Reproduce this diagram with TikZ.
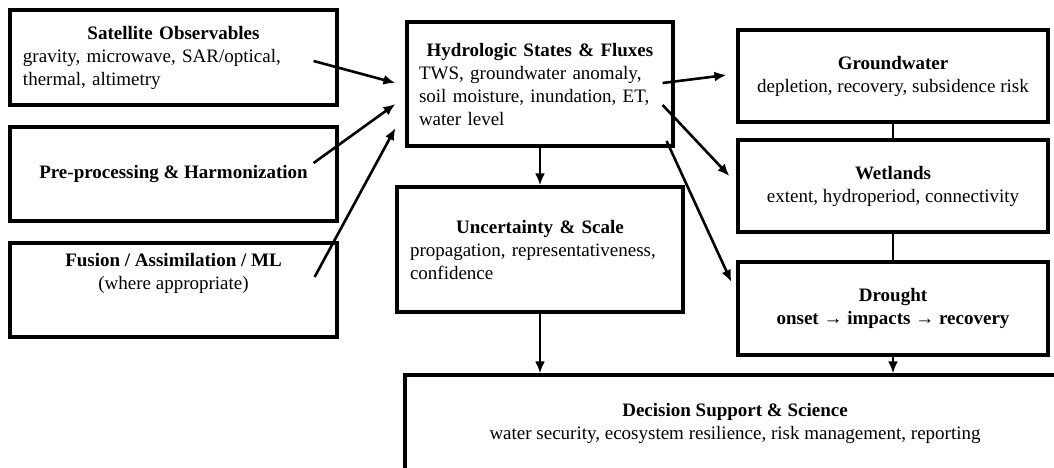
\documentclass[tikz,border=0pt]{standalone}
\usepackage{fontspec}
\setmainfont{Liberation Serif}
\usetikzlibrary{arrows.meta, calc}

\tikzset{
    stagebox/.style 2 args={draw, line width=3.2pt, inner sep=0pt,
        minimum width=#1, minimum height=#2, align=center},
    listbox/.style={align=left},
    link/.style={line width=2.6pt}
}

\begin{document}
\begin{tikzpicture}[x=1pt, y=1pt, font=\fontsize{19}{23}\selectfont,
        >={Latex[length=12pt, width=10pt]}]
            \useasboundingbox (0,0) rectangle (1054,-467);
            \clip (0,0) rectangle (1054,-467);

            % inputs on the left
            \node [stagebox={327pt}{95pt}, listbox, text width=301pt] (sat) at (173.5,-57.5)
                {\makebox[\hsize]{\textbf{Satellite Observables}}\\
                 gravity, microwave, SAR/optical,\\ thermal, altimetry};
            \node [stagebox={327pt}{94pt}] (pre) at (173.5,-174)
                {\textbf{Pre-processing \& Harmonization}};
            \node [stagebox={327pt}{94pt}] (fus) at (173.5,-290)
                {\textbf{Fusion / Assimilation / ML}\\ (where appropriate)\\[14pt] \mbox{}};

            % middle column
            \node [stagebox={266pt}{124pt}, listbox, text width=242pt] (hyd) at (540,-84)
                {\makebox[\hsize]{\textbf{Hydrologic States \& Fluxes}}\\
                 TWS, groundwater anomaly,\\ soil moisture, inundation, ET,\\ water level};
            \node [stagebox={286pt}{125pt}, listbox, text width=260pt] (unc) at (540,-249.5)
                {\makebox[\hsize]{\textbf{Uncertainty \& Scale}}\\
                 propagation, representativeness,\\ confidence};

            % outcomes on the right
            \node [stagebox={310pt}{92pt}] (gw) at (893,-76)
                {\textbf{Groundwater}\\ depletion, recovery, subsidence risk};
            \node [stagebox={310pt}{92pt}] (wet) at (893,-186)
                {\textbf{Wetlands}\\ extent, hydroperiod, connectivity};
            \node [stagebox={310pt}{93pt}] (dro) at (893,-308.5)
                {\textbf{Drought}\\ \textbf{onset → impacts → recovery}};

            \node [stagebox={660pt}{96pt}] (dec) at (735,-423)
                {\textbf{Decision Support \& Science}\\
                 water security, ecosystem resilience, risk management, reporting};

            \draw [->, link] ($(sat.east)+(-25,-3.5)$) -- ($(hyd.west)+(-10,1)$);
            \draw [->, link] ($(pre.east)+(-25,11)$) -- ($(hyd.west)+(-10,-20)$);
            \draw [->, link] ($(fus.east)+(-24,13)$) -- ($(hyd.west)+(-10,-44)$);

            \draw [->, link] ($(hyd.east)+(-12,1)$) -- ($(gw.west)+(-10,1)$);
            \draw [->, link] ($(hyd.east)+(-12,-21)$) -- ($(wet.west)+(-7,10)$);
            \draw [->, link] ($(hyd.east)+(-8,-57)$) -- ($(dro.west)+(-5,26.5)$);
            \draw [->, link] (hyd) -- (unc);

            \draw [link] (gw) -- (wet);
            \draw [link] (wet) -- (dro);

            \draw [->, link] (unc.south) -- (unc.south |- dec.north);
            \draw [->, link] (dro.south) -- (dro.south |- dec.north);
        \end{tikzpicture}
\end{document}
